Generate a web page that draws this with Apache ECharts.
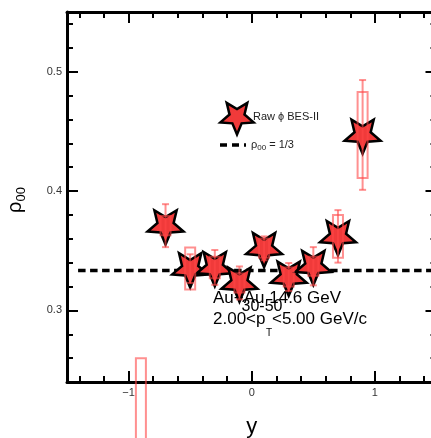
<!DOCTYPE html>
<html>
<head>
<meta charset="utf-8">
<script src="https://cdn.jsdelivr.net/npm/echarts@6/dist/echarts.min.js"></script>
<style>
  html, body { margin: 0; padding: 0; background: #fff; }
  #chart { width: 431px; height: 438px; }
</style>
</head>
<body>
<div id="chart"></div>
<script>
// phi-meson spin alignment versus rapidity
const rapidity = [-0.9, -0.7, -0.5, -0.3, -0.1, 0.1, 0.3, 0.5, 0.7, 0.9];
const rho00    = [0.16, 0.371, 0.335, 0.336, 0.323, 0.352, 0.328, 0.337, 0.362, 0.447];
const statErr  = [0.03, 0.018, 0.012, 0.0146, 0.0138, 0.010, 0.0117, 0.016, 0.022, 0.046];
const sysErr   = [0.10, 0.008, 0.0176, 0.009, 0.008, 0.008, 0.008, 0.008, 0.018, 0.036];

// unpolarised reference value and the span of its dashed line
const refValue = 1 / 3;
const refLineX = [-1.41, 1.5];

// axis ranges and ticks
const xRange = [-1.5, 1.5];
const yRange = [0.24, 0.55];
const xMajorTicks = [-1, 0, 1];
const xMinorTicks = [-1.4, -1.2, -0.8, -0.6, -0.4, -0.2, 0.2, 0.4, 0.6, 0.8, 1.2, 1.4];
const yMajorTicks = [0.3, 0.4, 0.5];
const yMinorTicks = [0.26, 0.28, 0.32, 0.34, 0.36, 0.38, 0.42, 0.44, 0.46, 0.48, 0.52, 0.54];

const FONT = '"Liberation Sans", Arial, Helvetica, sans-serif';
const RED = '#f03a3a';
const ERR = 'rgba(255, 70, 70, 0.6)';

// five-pointed star with its point down, outer radius r, inner radius 0.45 r
function starVertices(cx, cy, r) {
  const pts = [];
  for (let k = 0; k < 10; k++) {
    const a = k * Math.PI / 5;
    const rr = k % 2 === 0 ? r : 0.45 * r;
    pts.push([cx + rr * Math.sin(a), cy + rr * Math.cos(a)]);
  }
  return pts;
}
const STAR = 'path://' + starVertices(100, 100, 100)
  .map((p, i) => (i ? 'L' : 'M') + p[0].toFixed(1) + ',' + p[1].toFixed(1)).join(' ') + ' Z';

function makeAxis(position, range, ticks, tickLen, showLine, labelValues, fmt) {
  return {
    type: 'value',
    position: position,
    gridIndex: 0,
    min: range[0],
    max: range[1],
    splitLine: { show: false },
    axisLine: { show: showLine, onZero: false, lineStyle: { color: '#000', width: 3 } },
    axisTick: { show: true, inside: true, length: tickLen, customValues: ticks,
                lineStyle: { color: '#000', width: 2 } },
    axisLabel: labelValues
      ? { show: true, customValues: labelValues, formatter: fmt, fontFamily: FONT,
          fontSize: 11, color: '#333', margin: 5 }
      : { show: false }
  };
}

const xFmt = v => (v < 0 ? '\u2212' + Math.abs(v) : String(v));
const yFmt = v => v.toFixed(1);

const xAxes = [
  makeAxis('bottom', xRange, xMajorTicks, 11, true, xMajorTicks, xFmt),
  makeAxis('bottom', xRange, xMinorTicks, 6, false),
  makeAxis('top', xRange, xMajorTicks, 11, true),
  makeAxis('top', xRange, xMinorTicks, 6, false)
];
Object.assign(xAxes[0], {
  name: 'y', nameLocation: 'middle', nameGap: 34,
  nameTextStyle: { fontFamily: FONT, fontSize: 22, color: '#000' }
});

const yAxes = [
  makeAxis('left', yRange, yMajorTicks, 11, true, yMajorTicks, yFmt),
  makeAxis('left', yRange, yMinorTicks, 6, false),
  makeAxis('right', yRange, yMajorTicks, 11, true),
  makeAxis('right', yRange, yMinorTicks, 6, false)
];

const points = rapidity.map((x, i) => [x, rho00[i], statErr[i], sysErr[i]]);

function renderErrors(params, api) {
  const x = api.value(0), y = api.value(1), st = api.value(2), sy = api.value(3);
  const c = api.coord([x, y]);
  const top = api.coord([x, y + st])[1];
  const bot = api.coord([x, y - st])[1];
  const bTop = api.coord([x, y + sy])[1];
  const bBot = api.coord([x, y - sy])[1];
  const hw = 5, cap = 3.5;
  const s = { stroke: ERR, lineWidth: 2, fill: null };
  return {
    type: 'group',
    children: [
      { type: 'rect', shape: { x: c[0] - hw, y: bTop, width: 2 * hw, height: bBot - bTop }, style: s },
      { type: 'line', shape: { x1: c[0], y1: top, x2: c[0], y2: bot }, style: s },
      { type: 'line', shape: { x1: c[0] - cap, y1: top, x2: c[0] + cap, y2: top }, style: s },
      { type: 'line', shape: { x1: c[0] - cap, y1: bot, x2: c[0] + cap, y2: bot }, style: s }
    ]
  };
}

const textStyle = (size) => ({ fontFamily: FONT, fontSize: size, fill: '#000' });

const option = {
  animation: false,
  backgroundColor: '#fff',
  grid: { left: 67, top: 12, right: -5.5, bottom: 56, containLabel: false, outerBoundsMode: 'none' },
  xAxis: xAxes,
  yAxis: yAxes,
  series: [
    {
      type: 'line',
      name: 'reference',
      data: refLineX.map(x => [x, refValue]),
      symbol: 'none',
      z: 3,
      lineStyle: { color: '#000', width: 3.5, type: [7.5, 4.5] },
      emphasis: { disabled: true }
    },
    {
      type: 'scatter',
      name: 'Raw \u03d5 BES-II',
      data: points.map(p => [p[0], p[1]]),
      symbol: STAR,
      symbolSize: 36,
      symbolKeepAspect: true,
      symbolOffset: [0, 1.75],
      clip: true,
      z: 10,
      itemStyle: { color: RED, borderColor: '#000', borderWidth: 2.5, opacity: 1 },
      emphasis: { disabled: true }
    },
    {
      type: 'custom',
      name: 'errors',
      data: points,
      encode: { x: 0, y: 1 },
      renderItem: renderErrors,
      clip: false,
      z: 11,
      emphasis: { disabled: true }
    }
  ],
  graphic: {
    elements: [
      // legend
      { type: 'polygon', z: 20,
        shape: { points: starVertices(237, 117, 17.5) },
        style: { fill: RED, stroke: '#000', lineWidth: 2.5 } },
      { type: 'text', z: 20, x: 253, y: 117,
        style: { text: 'Raw \u03d5 BES-II', fontFamily: FONT, fontSize: 11, fill: '#222', verticalAlign: 'middle' } },
      { type: 'line', z: 20, shape: { x1: 220, y1: 145, x2: 246, y2: 145 },
        style: { stroke: '#000', lineWidth: 3.5, lineDash: [7, 5] } },
      { type: 'text', z: 20, x: 251, y: 145,
        style: { text: '{r|\u03c1}{s|00}{r| = 1/3}', fontFamily: FONT, fill: '#222', verticalAlign: 'middle',
                 rich: { r: { fontSize: 11, fontFamily: FONT, fill: '#222' },
                         s: { fontSize: 8, fontFamily: FONT, fill: '#222', padding: [5, 0, 0, 0] } } } },
      // collision system annotation
      { type: 'text', z: 1, x: 213, y: 298,
        style: Object.assign(textStyle(17), { text: 'Au+Au 14.6 GeV', verticalAlign: 'middle' }) },
      { type: 'text', z: 1, x: 262, y: 307,
        style: Object.assign(textStyle(16), { text: '30-50', align: 'center', verticalAlign: 'middle' }) },
      { type: 'text', z: 1, x: 213, y: 319,
        style: Object.assign(textStyle(17), { text: '2.00<p', verticalAlign: 'middle' }) },
      { type: 'text', z: 1, x: 266, y: 333,
        style: Object.assign(textStyle(10), { text: 'T', verticalAlign: 'middle' }) },
      { type: 'text', z: 1, x: 272, y: 319,
        style: Object.assign(textStyle(17), { text: '<5.00 GeV/c', verticalAlign: 'middle' }) },
      // y-axis title
      { type: 'group', x: 22, y: 199, rotation: Math.PI / 2,
        children: [
          { type: 'text', x: -14, y: -7,
            style: Object.assign(textStyle(20), { text: '\u03c1', verticalAlign: 'middle' }) },
          { type: 'text', x: -2.5, y: -0.5,
            style: Object.assign(textStyle(13), { text: '00', verticalAlign: 'middle' }) }
        ] }
    ]
  }
};

const chart = echarts.init(document.getElementById('chart'), null, { renderer: 'canvas' });
chart.setOption(option);
</script>
</body>
</html>
